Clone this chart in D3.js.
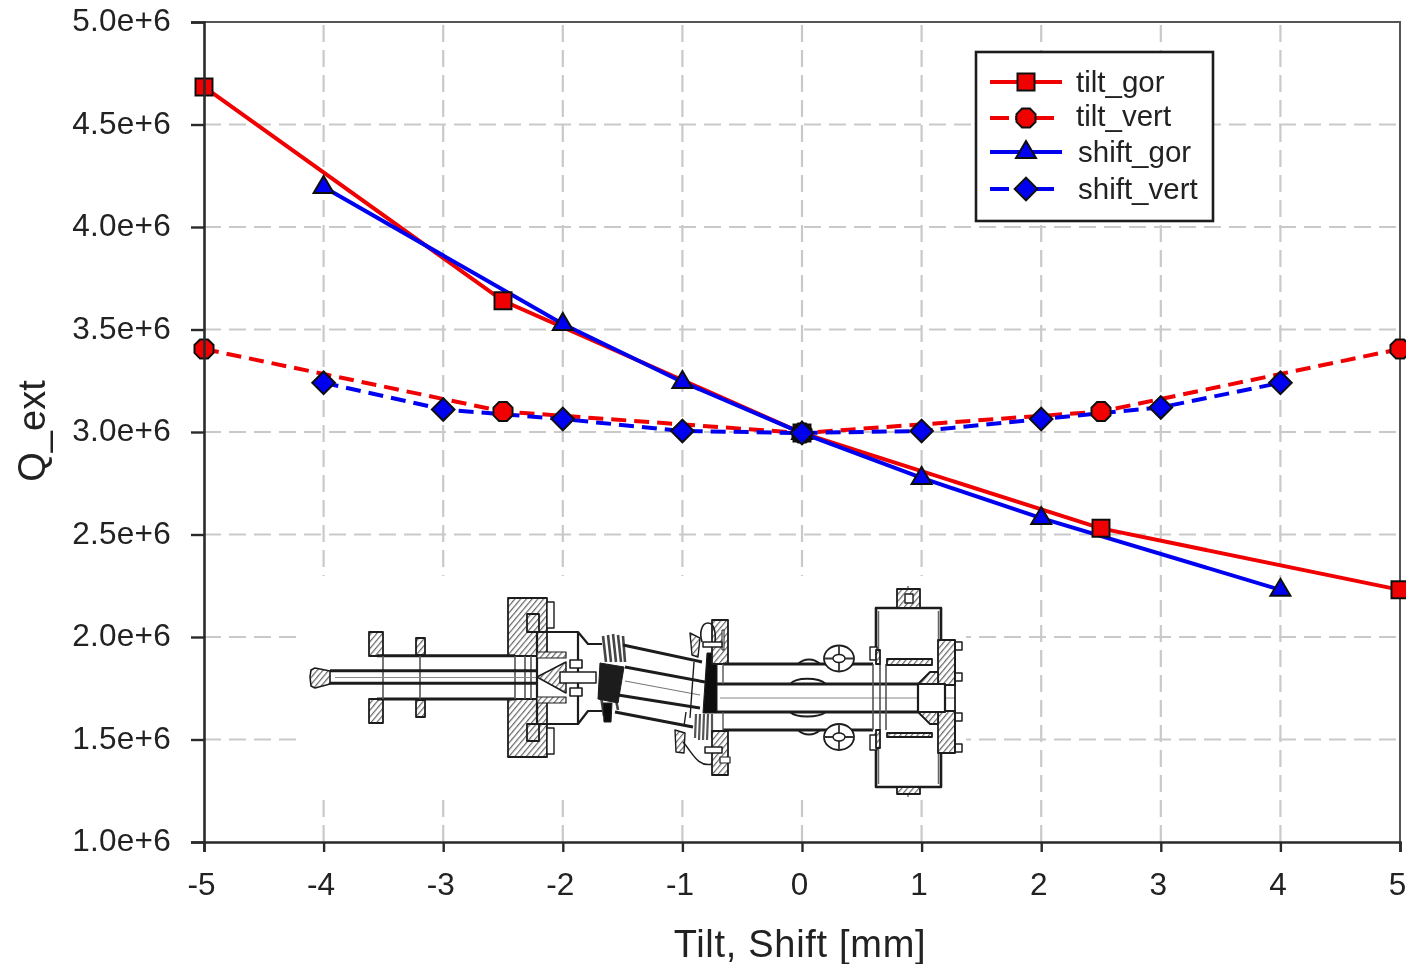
<!DOCTYPE html>
<html><head><meta charset="utf-8">
<script src="https://cdn.jsdelivr.net/npm/d3@7/dist/d3.min.js"></script>
<style>html,body{margin:0;padding:0;background:#fff}svg{display:block}text{font-family:"Liberation Sans",Arial,sans-serif;fill:#222}</style>
</head><body><svg id="c" width="1406" height="964"></svg>
<script>
const xTicks=[-5,-4,-3,-2,-1,0,1,2,3,4,5];
const yTicks=[1e6,1.5e6,2e6,2.5e6,3e6,3.5e6,4e6,4.5e6,5e6];
const yTickLabels=["1.0e+6","1.5e+6","2.0e+6","2.5e+6","3.0e+6","3.5e+6","4.0e+6","4.5e+6","5.0e+6"];
const tiltGorX=[-5,-2.5,0,2.5,5];
const tiltGorY=[4.683e6,3.64e6,2.995e6,2.53e6,2.23e6];
const tiltVertX=[-5,-2.5,0,2.5,5];
const tiltVertY=[3.405e6,3.10e6,2.995e6,3.10e6,3.405e6];
const shiftGorX=[-4,-2,-1,0,1,2,4];
const shiftGorY=[4.195e6,3.527e6,3.244e6,2.995e6,2.776e6,2.58e6,2.23e6];
const shiftVertX=[-4,-3,-2,-1,0,1,2,3,4];
const shiftVertY=[3.24e6,3.11e6,3.063e6,3.005e6,2.995e6,3.005e6,3.063e6,3.12e6,3.24e6];
const seriesNames=["tilt_gor","tilt_vert","shift_gor","shift_vert"];

const svg=d3.select("#c");
const x=d3.scaleLinear().domain([-5,5]).range([204,1400]);
const y=d3.scaleLinear().domain([1e6,5e6]).range([842,22]);
const DARK="#2a2a2a";

const defs=svg.append("defs");
const hp=defs.append("pattern").attr("id","hatch").attr("width",4.4).attr("height",4.4)
  .attr("patternUnits","userSpaceOnUse").attr("patternTransform","rotate(40)");
hp.append("rect").attr("width",4.4).attr("height",4.4).attr("fill","#fff");
hp.append("line").attr("x1",0).attr("y1",0).attr("x2",0).attr("y2",4.4).attr("stroke","#666").attr("stroke-width",2.4);
defs.append("filter").attr("id","soft").attr("x","-2%").attr("y","-2%").attr("width","104%").attr("height","104%")
  .append("feGaussianBlur").attr("stdDeviation",0.6);

const root=svg.append("g").attr("filter","url(#soft)");

// grid
const grid=root.append("g").attr("stroke","#c9c9c9").attr("stroke-width",2.2).attr("stroke-dasharray","17 8").attr("fill","none");
grid.selectAll(".gx").data(xTicks.slice(1,-1)).join("line").attr("x1",d=>x(d)).attr("x2",d=>x(d)).attr("y1",842).attr("y2",22);
grid.selectAll(".gy").data(yTicks.slice(1,-1)).join("line").attr("y1",d=>y(d)).attr("y2",d=>y(d)).attr("x1",204).attr("x2",1400);

// plot frame
root.append("path").attr("d","M204 22H1400V842").attr("fill","none").attr("stroke","#555").attr("stroke-width",2);

// white backing of the inset drawing
root.append("rect").attr("x",298).attr("y",576).attr("width",668).attr("height",224).attr("fill","#fff");

// ---- inset drawing -----
const d=root.append("g").attr("stroke","#1c1c1c").attr("fill","none").attr("stroke-linejoin","round");
function P(p,w=2,f="none",s="#1c1c1c"){d.append("path").attr("d",p).attr("stroke-width",w).attr("fill",f).attr("stroke",s);}
function R(a,b,c,e,f="url(#hatch)",w=1.8){d.append("rect").attr("x",a).attr("y",b).attr("width",c-a).attr("height",e-b).attr("fill",f).attr("stroke-width",w);}
// tip
P("M330 671L315 668L311 670L310 677L311 686L315 688L330 684Z",1.6,"url(#hatch)");
R(369,632,383,656);R(369,699,383,723);
R(416,638,425,655);R(416,700,425,717);
R(508,598,547,656);R(508,699,547,757);
R(527,614,539,632);R(527,724,539,741);
// bolts of large flange
R(547,602,554,628,"#fff",1.4);R(547,728,554,754,"#fff",1.4);
P("M377 655.7H515M377 699H515",3);
P("M383 656V699M420 656V699M515 656V699M525 656V699M531 656V699",1.6,"none","#555");
P("M330 670.7H537M330 683.3H537",3);
P("M335 677.5H537",1.2,"none","#888");
// housing
P("M537 632H578L588 644H602M537 724H578L588 711H602M537 632V724M578 632V724",2.2);
R(537,652,566,658,"url(#hatch)",1.2);R(537,697,566,703,"url(#hatch)",1.2);
P("M537 677L566 662V693Z",1.5,"url(#hatch)");
R(570,660,582,668,"#fff",1.6);R(570,688,582,696,"#fff",1.6);
P("M560 672H596V683H560Z",1.5,"#fff");
// bellows (left)
["M603 636L606 662","M608 635L611 662","M613 634L616 662","M618 635L621 662","M623 636L625 662","M600 690L604 716","M616 700L618 710"].forEach(p=>P(p,2.6,"none","#444"));
P("M600 663L624 667L618 703L598 699Z",1,"#1a1a1a");
P("M603 703L612 703L611 722L604 722Z",1,"#111");
// tilted tube
P("M623 645L702 662M625 667L705 682M618 695L700 708M615 712L693 727",3);
P("M625 681L700 695",1.1,"none","#777");
// joint (right)
P("M707 653L717 653L717 713L703 713Z",1,"#111");
P("M694 662L690 718M684 726L686 712",1.4);
["M696 714L695 738","M700 714L699 740","M704 714L703 740","M708 714L707 740","M712 714L712 738"].forEach(p=>P(p,2.2,"none","#555"));
R(712,620,728,664);R(712,731,728,775);
R(722,630,724,650,"#fff",1);
P("M702 642C699 632 702 623 708 623C714 623 716 632 715 642",1.6);
R(703,642,722,647,"#fff",1.5);R(705,747,722,753,"#fff",1.5);
R(720,757,730,763,"#fff",1.2);
P("M690 633L700 638L698 657L692 655Z",1.4,"url(#hatch)");
P("M675 730L685 733L684 753L676 752Z",1.4,"url(#hatch)");
P("M683 742C692 752 698 768 712 764",1.5);
// straight tube
P("M723 664H873M723 730H873",3);
P("M717 684H918M717 712H918",3);
P("M720 698H955",1.2,"none","#888");
P("M723 664V684M723 712V730",1.4,"none","#555");
P("M873 664V730M880 664V730M886 664V730",1.6,"none","#555");
// knobs
[[839,658.5],[839,737]].forEach(([a,b])=>{d.append("ellipse").attr("cx",a).attr("cy",b).attr("rx",15).attr("ry",13).attr("stroke-width",1.8).attr("fill","#fff");
 d.append("path").attr("d",`M${a-15} ${b}H${a+15}M${a} ${b-13}V${b+13}`).attr("stroke-width",1.8).attr("stroke","#333");
 d.append("ellipse").attr("cx",a).attr("cy",b).attr("rx",6).attr("ry",4).attr("stroke-width",1.4).attr("fill","#fff");});
P("M798 664C804 658 814 658 820 664M790 684C796 677 818 677 826 684M790 712C796 718 818 718 826 712M798 730C804 736 814 736 820 730",1.8);
// cavity
P("M876 660V608H941V660M876 733V787H941V733",2.6);
P("M878.5 660V611M938.5 660V611M878.5 733V784M938.5 733V784",1.5,"none","#666");
R(897,589,920,608);R(905,594,913,603,"#fff",1.4);R(897,787,920,794);
P("M908 586V590M908 794V797",1);
// collars
R(887,659,932,665,"url(#hatch)",1.8);R(887,733,932,737,"url(#hatch)",1.8);
R(870,647,877,660,"#fff",1.4);R(870,735,877,750,"#fff",1.4);
R(876,650,880,664);R(876,730,880,748);
// end plate
R(938,640,955,685);R(938,711,955,753);
P("M918 684L930 672H938V684M918 712L930 724H938V712",1.8,"url(#hatch)");
R(918,684,945,712,"#fff",2.2);
[646,677,717,748].forEach(b=>R(955,b-4,962,b+4,"#fff",1.5));
P("M955 640V753",1.8);

// line series
const line=d3.line().x(p=>x(p[0])).y(p=>y(p[1]));
const RED="#f00000",BLUE="#0000f0";
const sq=d3.symbol().type(d3.symbolSquare).size(17*17)();
const dia=d3.symbol().type(d3.symbolSquare).size(16*16)();
const oct=d3.range(8).map(i=>{const a=Math.PI/8+i*Math.PI/4;return [10.3*Math.cos(a),10.3*Math.sin(a)];});
const octP="M"+oct.map(q=>q.join(",")).join("L")+"Z";
const triP=d3.line()([[0,-11],[10,6],[-10,6]])+"Z";
const specs=[
 {xs:tiltGorX,ys:tiltGorY,c:RED,dash:null,m:sq,rot:0},
 {xs:tiltVertX,ys:tiltVertY,c:RED,dash:"15 8",m:octP,rot:0},
 {xs:shiftGorX,ys:shiftGorY,c:BLUE,dash:null,m:triP,rot:0},
 {xs:shiftVertX,ys:shiftVertY,c:BLUE,dash:"15 8",m:dia,rot:45}
];
function marker(g,s,a,b){g.append("path").attr("d",s.m).attr("transform",`translate(${a},${b}) rotate(${s.rot})`)
  .attr("fill",s.c).attr("stroke","#111").attr("stroke-width",2);}
specs.forEach(s=>{
  const pts=s.xs.map((v,i)=>[v,s.ys[i]]);
  const p=root.append("path").attr("d",line(pts)).attr("fill","none").attr("stroke",s.c).attr("stroke-width",4);
  if(s.dash)p.attr("stroke-dasharray",s.dash);
});
specs.forEach(s=>{const g=root.append("g");s.xs.forEach((v,i)=>marker(g,s,x(v),y(s.ys[i])));});

// axes
const gx=root.append("g").attr("transform","translate(0,842)").call(d3.axisBottom(x).tickValues(xTicks).tickSize(10).tickPadding(21).tickFormat(v=>String(v)));
const gy=root.append("g").attr("transform","translate(204,0)").call(d3.axisLeft(y).tickValues(yTicks).tickSize(13).tickPadding(20).tickFormat((v,i)=>yTickLabels[i]));
[gx,gy].forEach(g=>{g.select(".domain").attr("stroke",DARK).attr("stroke-width",2.6);
  g.selectAll(".tick line").attr("stroke",DARK).attr("stroke-width",2.4);
  g.selectAll("text").attr("font-size",31.5).attr("font-family",null).style("fill","#222");});
gy.selectAll("text").attr("dy","0.27em").style("letter-spacing","0.25px");
gx.selectAll("text").attr("dx",-3);

root.append("text").attr("x",800).attr("y",957).attr("text-anchor","middle").attr("font-size",38).style("letter-spacing","0.7px").text("Tilt, Shift [mm]");
root.append("text").attr("transform","translate(45,431) rotate(-90)").attr("text-anchor","middle").attr("font-size",38).text("Q_ext");

// legend
const lg=root.append("g");
lg.append("rect").attr("x",976).attr("y",52).attr("width",237).attr("height",169).attr("fill","#fff").attr("stroke","#1c1c1c").attr("stroke-width",2.6);
const rowY=[82,118,152,189],txtX=[1076,1076,1078,1078],txtY=[92,126,162,199];
seriesNames.forEach((n,i)=>{
  const s=specs[i];
  lg.append("line").attr("x1",990).attr("x2",s.dash?1054:1062).attr("y1",rowY[i]).attr("y2",rowY[i]).attr("stroke",s.c).attr("stroke-width",4).attr("stroke-dasharray",s.dash?"19 6 40":null);
  marker(lg,s,1026,rowY[i]);
  lg.append("text").attr("x",txtX[i]).attr("y",txtY[i]).attr("font-size",29.5).text(n);
});
</script></body></html>
